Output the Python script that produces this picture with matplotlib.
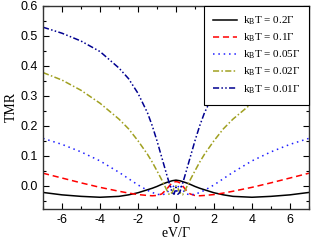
import matplotlib
matplotlib.use("Agg")
import matplotlib.pyplot as plt
from matplotlib.ticker import MultipleLocator

# bias voltage eV/Gamma
ev = [-7, -6, -5, -4, -3, -2.5, -2, -1.5, -1.25, -1, -0.75, -0.5, -0.35, -0.2, -0.1, 0,
      0.1, 0.2, 0.35, 0.5, 0.75, 1, 1.25, 1.5, 2, 2.5, 3, 4, 5, 6, 7]

tmr_02 = [-0.022, -0.030, -0.035, -0.038, -0.035, -0.030, -0.023, -0.013, -0.008, -0.002,
          0.005, 0.011, 0.014, 0.017, 0.018, 0.019,
          0.018, 0.017, 0.014, 0.011, 0.005, -0.002, -0.008, -0.013, -0.023, -0.030,
          -0.035, -0.038, -0.035, -0.030, -0.022]
tmr_01 = [0.042, 0.026, 0.010, -0.005, -0.018, -0.024, -0.029, -0.032, -0.033, -0.032,
          -0.027, -0.012, 0.000, 0.010, 0.013, 0.014,
          0.013, 0.010, 0.000, -0.012, -0.027, -0.032, -0.033, -0.032, -0.029, -0.024,
          -0.018, -0.005, 0.010, 0.026, 0.042]
tmr_005 = [0.158, 0.138, 0.113, 0.083, 0.045, 0.024, 0.003, -0.015, -0.022, -0.028,
           -0.030, -0.026, -0.012, 0.005, -0.005, -0.018,
           -0.005, 0.005, -0.012, -0.026, -0.030, -0.028, -0.022, -0.015, 0.003, 0.024,
           0.045, 0.083, 0.113, 0.138, 0.158]
tmr_002 = [0.377, 0.352, 0.318, 0.275, 0.222, 0.190, 0.150, 0.105, 0.079, 0.050,
           0.020, -0.012, -0.030, -0.022, -0.008, 0.000,
           -0.008, -0.022, -0.030, -0.012, 0.020, 0.050, 0.079, 0.105, 0.150, 0.190,
           0.222, 0.275, 0.318, 0.352, 0.377]
tmr_001 = [0.528, 0.508, 0.482, 0.447, 0.392, 0.357, 0.308, 0.243, 0.200, 0.150,
           0.095, 0.040, 0.008, -0.022, -0.028, -0.005,
           -0.028, -0.022, 0.008, 0.040, 0.095, 0.150, 0.200, 0.243, 0.308, 0.357,
           0.392, 0.447, 0.482, 0.508, 0.528]

labels = [r"k$_\mathregular{B}$T = 0.2$\Gamma$", r"k$_\mathregular{B}$T = 0.1$\Gamma$",
          r"k$_\mathregular{B}$T = 0.05$\Gamma$", r"k$_\mathregular{B}$T = 0.02$\Gamma$",
          r"k$_\mathregular{B}$T = 0.01$\Gamma$"]

plt.rcParams["mathtext.fontset"] = "custom"
plt.rcParams["mathtext.rm"] = "Liberation Serif"
plt.rcParams["mathtext.it"] = "Liberation Serif"
plt.rcParams["axes.unicode_minus"] = False

fig = plt.figure(figsize=(3.12, 2.43), dpi=100)
ax = fig.add_axes([0.138, 0.14, 0.852, 0.837])

ax.plot(ev, tmr_02, color="black", lw=1.1, ls="-", label=labels[0])
ax.plot(ev, tmr_01, color="red", lw=1.1, ls=(0, (4, 2.5)), label=labels[1])
ax.plot(ev, tmr_005, color="#1f1fff", lw=1.1, ls=(0, (1, 2.5)), label=labels[2])
ax.plot(ev, tmr_002, color="#a0a020", lw=1.1, ls=(0, (4, 1.5, 1, 1.5)), label=labels[3])
ax.plot(ev, tmr_001, color="#000090", lw=1.1, ls=(0, (4, 1.5, 1, 1.5, 1, 1.5)), label=labels[4])

ax.set_xlim(-7, 7)
ax.set_ylim(-0.077, 0.6)
ax.xaxis.set_major_locator(MultipleLocator(2))
ax.xaxis.set_minor_locator(MultipleLocator(1))
ax.yaxis.set_minor_locator(MultipleLocator(0.05))
ax.set_yticks([0.0, 0.1, 0.2, 0.3, 0.4, 0.5, 0.6])
ax.yaxis.set_major_formatter(matplotlib.ticker.FormatStrFormatter("%.1f"))
ax.tick_params(which="both", direction="in", top=True, right=True,
               labelsize=9, width=0.8)
ax.tick_params(which="major", length=4)
ax.tick_params(which="minor", length=2)
for lab in ax.get_xticklabels() + ax.get_yticklabels():
    lab.set_family("Liberation Sans")
for sp in ax.spines.values():
    sp.set_linewidth(1.0)
    sp.set_color("#333333")

ax.set_xlabel(r"eV/$\Gamma$", family="Liberation Serif", fontsize=10, labelpad=0)
ax.set_ylabel("TMR", family="Liberation Serif", fontsize=10, labelpad=2)

leg = ax.legend(loc="upper right", prop={"family": "Liberation Serif", "size": 8},
                frameon=True, fancybox=False, edgecolor="black", framealpha=1,
                handlelength=2.1, handletextpad=0.55, labelspacing=0.42,
                borderpad=0.8, borderaxespad=0.0)
leg.get_frame().set_linewidth(0.8)

fig.savefig("out.png", dpi=100)
